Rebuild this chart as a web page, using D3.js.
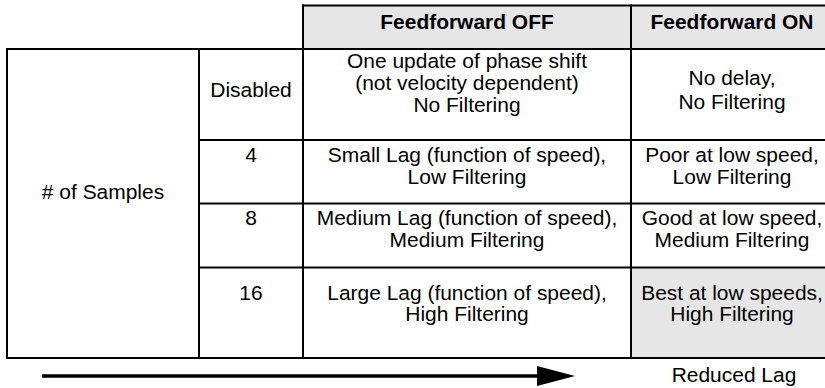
<!DOCTYPE html>
<html><head><meta charset="utf-8">
<script src="https://cdn.jsdelivr.net/npm/d3@7"></script>
<style>html,body{margin:0;padding:0;background:#fff;overflow:hidden}</style>
</head><body><svg id="c" width="825" height="388"></svg>
<script>
// ---------- data ----------
const columnHeaders = ["Feedforward OFF", "Feedforward ON"];
const groupLabel = "# of Samples";
const sampleSettings = ["Disabled", "4", "8", "16"];
const feedforwardOff = [
  ["One update of phase shift", "(not velocity dependent)", "No Filtering"],
  ["Small Lag (function of speed),", "Low Filtering"],
  ["Medium Lag (function of speed),", "Medium Filtering"],
  ["Large Lag (function of speed),", "High Filtering"]
];
const feedforwardOn = [
  ["No delay,", "No Filtering"],
  ["Poor at low speed,", "Low Filtering"],
  ["Good at low speed,", "Medium Filtering"],
  ["Best at low speeds,", "High Filtering"]
];
const highlightedOn = ["16"];
const arrowLabel = "Reduced Lag";

// ---------- layout ----------
const colEdges = [7, 199, 303, 631, 833];
const rowEdges = [49, 140, 203.5, 267.5, 358];
const headerTop = 5.5;
const FS = 19.5, SX = 1.075, HALFCAP = 0.716 * FS / 2;
const LINE_H = 21;
// vertical shift of each text block centre from its cell centre: [label, off, on]
const rowShift = [[-4, -11.5, -4], [-17, -5.5, -5.5], [-17, -6, -6], [-20, -9.5, -9.5]];
const onLineH = [24, 22, 22, 21];
const offLineH = [22, 22, 22, 21];

const x = d3.scaleLinear().domain([0, 1, 2, 3, 4]).range(colEdges);
const y = d3.scaleLinear().domain([0, 1, 2, 3, 4]).range(rowEdges);

const svg = d3.select("#c");
const font = "'Liberation Sans', Arial, sans-serif";

// fills
svg.append("rect").attr("x", x(2)).attr("y", headerTop)
  .attr("width", x(4) - x(2)).attr("height", y(0) - headerTop).attr("fill", "#e6e6e6");
svg.selectAll("rect.hl").data(sampleSettings.map((s, i) => ({s, i})).filter(d => highlightedOn.includes(d.s)))
  .join("rect").attr("class", "hl")
  .attr("x", x(3)).attr("y", d => y(d.i)).attr("width", x(4) - x(3))
  .attr("height", d => y(d.i + 1) - y(d.i)).attr("fill", "#e6e6e6");

// grid lines
const lines = [];
lines.push({x1: x(2), x2: x(4), y1: headerTop, y2: headerTop});
[0, 4].forEach(r => lines.push({x1: x(0), x2: x(4), y1: y(r), y2: y(r)}));
[1, 2, 3].forEach(r => lines.push({x1: x(1), x2: x(4), y1: y(r), y2: y(r)}));
[0, 1].forEach(c => lines.push({x1: x(c), x2: x(c), y1: y(0), y2: y(4)}));
[2, 3, 4].forEach(c => lines.push({x1: x(c), x2: x(c), y1: headerTop, y2: y(4)}));
svg.selectAll("line.grid").data(lines).join("line").attr("class", "grid")
  .attr("x1", d => d.x1).attr("x2", d => d.x2).attr("y1", d => d.y1).attr("y2", d => d.y2)
  .attr("stroke", "#000").attr("stroke-width", 2).attr("stroke-linecap", "square");

// text helper
function addBlock(linesArr, cx, capCenter, lh, bold) {
  const n = linesArr.length;
  linesArr.forEach((t, k) => {
    const cc = capCenter + (k - (n - 1) / 2) * lh;
    svg.append("text")
      .attr("transform", `translate(${cx},${cc + HALFCAP}) scale(${SX},1)`)
      .attr("text-anchor", "middle")
      .attr("font-family", font).attr("font-size", FS)
      .attr("font-weight", bold ? "bold" : "normal")
      .attr("fill", "#000").text(t);
  });
}

// headers
columnHeaders.forEach((h, i) => {
  addBlock([h], (x(2 + i) + x(3 + i)) / 2, (headerTop + y(0)) / 2 - 5, LINE_H, true);
});
// group label
addBlock([groupLabel], (x(0) + x(1)) / 2, (y(0) + y(4)) / 2 - 11, LINE_H, false);
// rows
sampleSettings.forEach((s, i) => {
  const cy = (y(i) + y(i + 1)) / 2;
  addBlock([s], (x(1) + x(2)) / 2, cy + rowShift[i][0], LINE_H, false);
  addBlock(feedforwardOff[i], (x(2) + x(3)) / 2, cy + rowShift[i][1], offLineH[i], false);
  addBlock(feedforwardOn[i], (x(3) + x(4)) / 2, cy + rowShift[i][2], onLineH[i], false);
});

// arrow
const arrowY = 376, arrowX0 = 42, headBase = 537, headTip = 575, headHalf = 10;
svg.append("line").attr("x1", arrowX0).attr("x2", headBase + 2).attr("y1", arrowY).attr("y2", arrowY)
  .attr("stroke", "#000").attr("stroke-width", 3.4);
svg.append("path")
  .attr("d", d3.line()([[headBase, arrowY - headHalf], [headTip, arrowY], [headBase, arrowY + headHalf]]) + "Z")
  .attr("fill", "#000");
addBlock([arrowLabel], (x(3) + x(4)) / 2 + 2, 375, LINE_H, false);
</script>
</body></html>
